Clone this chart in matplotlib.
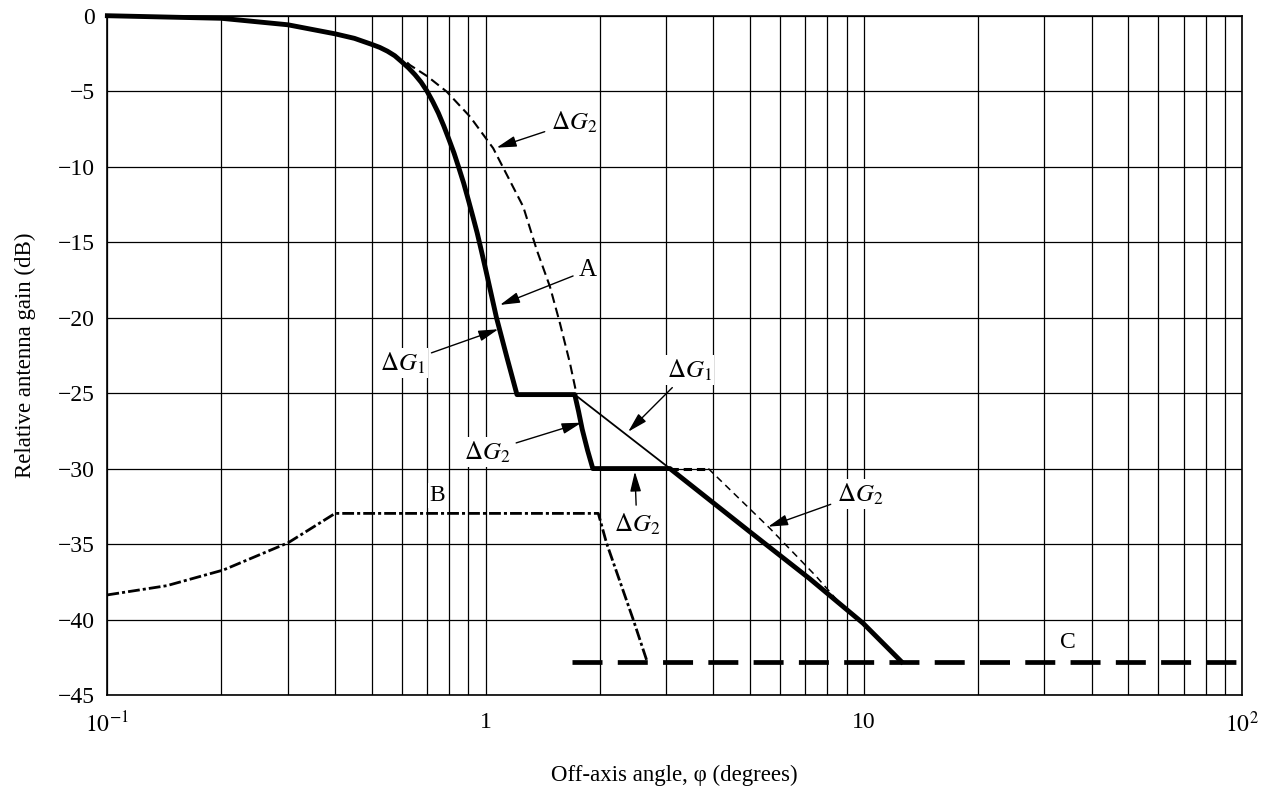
# relative antenna gain vs off-axis angle, with the delta-G construction lines
import matplotlib.pyplot as plt
from matplotlib.ticker import FixedLocator, NullFormatter

plt.rcParams['font.family'] = ['Liberation Serif', 'DejaVu Serif']
plt.rcParams['mathtext.fontset'] = 'stix'
plt.rcParams['lines.scale_dashes'] = False

# curve A (thick solid)
phi_a = [0.1, 0.2, 0.3, 0.4, 0.45, 0.5, 0.525, 0.55, 0.575, 0.6, 0.625, 0.65,
         0.675, 0.7, 0.725, 0.75, 0.775, 0.8, 0.825, 0.85, 0.875, 0.9, 0.925,
         0.95, 0.975, 1.0, 1.068, 1.14, 1.21, 1.72, 1.76, 1.80, 1.86, 1.92,
         3.07, 5.0, 7.19, 9.95, 12.57]
g_a = [0.0, -0.17, -0.6, -1.2, -1.5, -1.9, -2.1, -2.35, -2.65, -3.05, -3.45,
       -3.9, -4.4, -5.0, -5.7, -6.45, -7.3, -8.2, -9.1, -10.1, -11.1, -12.2,
       -13.3, -14.4, -15.6, -16.8, -20.0, -22.7, -25.1, -25.1, -26.2, -27.4,
       -28.8, -30.0, -30.0, -34.2, -37.3, -40.25, -42.8]

# delta G2, upper dashed branch
phi_d1 = [0.62, 0.631, 0.7, 0.789, 0.9095, 1.047, 1.257, 1.365, 1.479, 1.572,
          1.671, 1.74]
g_d1 = [-3.1, -3.27, -4.0, -5.03, -6.69, -8.78, -12.65, -15.52, -17.95, -20.38,
        -23.03, -25.1]

# delta G1, thin solid segment
phi_g1 = [1.72, 3.07]
g_g1 = [-25.1, -30.0]

# delta G2, lower dashed branch
phi_d2_flat = [3.07, 3.88]
g_d2_flat = [-30.0, -30.0]
phi_d2 = [3.88, 3.97, 5.64, 7.49, 8.63, 9.5]
g_d2 = [-30.0, -30.25, -33.96, -37.16, -38.92, -39.9]

# curve B (dash-dot)
phi_b = [0.1, 0.1435, 0.2026, 0.3008, 0.4, 1.985, 2.088, 2.455, 2.665]
g_b = [-38.37, -37.76, -36.72, -34.91, -32.97, -32.97, -34.95, -40.0, -42.7]

# curve C (long dashes)
phi_c = [1.69, 100]
g_c = [-42.8, -42.8]

# annotations: text, text position, arrow tip (None = no arrow)
labels = [
    (r'$\Delta G_2$', (1.711, -7.04), (1.069, -8.74)),
    ('A', (1.864, -16.85), (1.091, -19.16)),
    (r'$\Delta G_1$', (0.6046, -23.0), (1.080, -20.77)),
    (r'$\Delta G_2$', (1.008, -28.9), (1.793, -26.96)),
    (r'$\Delta G_1$', (3.467, -23.47), (2.381, -27.56)),
    (r'$\Delta G_2$', (2.51, -33.67), (2.48, -30.2)),
    (r'$\Delta G_2$', (9.754, -31.68), (5.58, -33.85)),
    ('B', (0.746, -31.78), None),
    ('C', (34.57, -41.55), None),
]

fig = plt.figure(figsize=(12.72, 7.94), dpi=100)
ax = fig.add_axes([0.0844, 0.1247, 0.8922, 0.8555])
ax.set_xscale('log')
ax.set_xlim(0.1, 100)
ax.set_ylim(-45, 0)

ax.plot(phi_a, g_a, color='k', lw=3.5, clip_on=False, zorder=5)
ax.plot(phi_d1, g_d1, color='k', lw=1.5, dashes=(7, 3.6), zorder=4)
ax.plot(phi_g1, g_g1, color='k', lw=1.3, zorder=4)
ax.plot(phi_d2_flat, g_d2_flat, color='k', lw=2.2, dashes=(6, 3.5), zorder=4)
ax.plot(phi_d2, g_d2, color='k', lw=1.1, dashes=(5, 3.5), zorder=4)
ax.plot(phi_b, g_b, color='k', lw=2.0, dashes=(8.5, 2.2, 2.2, 2.2), zorder=4)
ax.plot(phi_c, g_c, color='k', lw=3.4, dashes=(21.6, 11.0), zorder=4)

for txt, pos, tip in labels:
    if tip is None:
        ax.text(pos[0], pos[1], txt, fontsize=17, ha='center', va='center',
                zorder=6, bbox=dict(fc='white', ec='none', pad=1.5))
    else:
        ax.annotate(txt, xy=tip, xytext=pos, fontsize=18, ha='center',
                    va='center', zorder=6,
                    bbox=dict(fc='white', ec='none', pad=1.5),
                    arrowprops=dict(arrowstyle='-|>,head_length=0.8,head_width=0.22',
                                    color='k', lw=1.0, mutation_scale=15,
                                    shrinkA=3, shrinkB=0))

# grid
ax.set_yticks(range(-45, 1, 5))
ax.xaxis.set_major_locator(FixedLocator([0.1, 1, 10, 100]))
ax.set_xticklabels([r'$10^{-1}$', '1', '10', r'$10^{2}$'])
minors = [m * d for d in (0.1, 1, 10) for m in range(2, 10)]
ax.xaxis.set_minor_locator(FixedLocator(minors))
ax.xaxis.set_minor_formatter(NullFormatter())
ax.grid(True, which='both', axis='x', color='k', lw=0.9)
ax.grid(True, which='major', axis='y', color='k', lw=0.9)
ax.set_axisbelow(True)
ax.tick_params(which='both', length=0, labelsize=17)
ax.tick_params(axis='x', pad=12)
ax.tick_params(axis='y', pad=9)
for s in ax.spines.values():
    s.set_linewidth(1.2)

ax.set_xlabel('Off-axis angle, φ (degrees)', fontsize=16.5, labelpad=20)
ax.set_ylabel('Relative antenna gain (dB)', fontsize=16.5, labelpad=16)

fig.savefig('out.png', dpi=100)
